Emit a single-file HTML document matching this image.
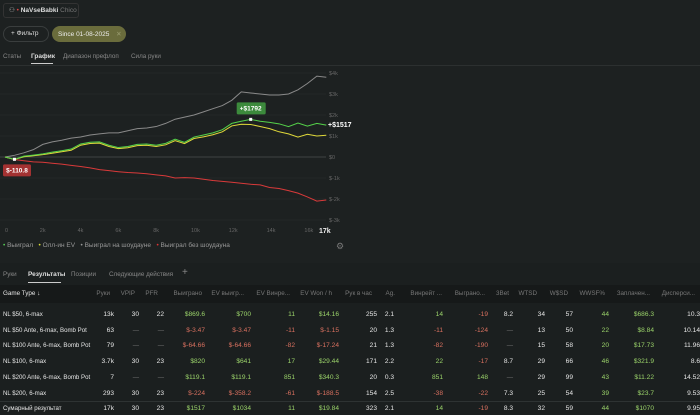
<!DOCTYPE html>
<html><head><meta charset="utf-8">
<style>
*{margin:0;padding:0;box-sizing:border-box}
body{width:700px;height:415px;background:#1d2121;font-family:"Liberation Sans","Noto Sans CJK SC",sans-serif;color:#ddd;position:relative;overflow:hidden;font-size:6.6px}
.a{position:absolute;white-space:nowrap}
.hd{color:#777;font-size:6.3px}
.g{color:#9bd36a}.r{color:#d8705f}.w{color:#e6e6e6}
</style></head><body>
<div class="a" style="left:3px;top:3px;width:76px;height:15px;border:1px solid #333;border-radius:3px;"></div>
<div class="a" style="left:9px;top:6px;font-size:6.5px"><span style="color:#aaa">⚇</span> <span style="color:#d44">•</span> <b>NaVseBabki</b> <span style="color:#777">Chico</span></div>
<div class="a" style="left:3px;top:26px;width:46px;height:16px;border:1px solid #3a3e3e;border-radius:8px;font-size:6.5px;padding:3px 0 0 7px">+ Фильтр</div>
<div class="a" style="left:52px;top:26px;width:74px;height:16px;background:#6a6c3c;border-radius:8px;font-size:6.5px;padding:4px 0 0 6px;color:#eee">Since 01-08-2025 <span style="color:#9a9c70;margin-left:5px">✕</span></div>
<div class="a hd" style="left:3px;top:53px;color:#888">Статы</div>
<div class="a" style="left:31px;top:53px;font-weight:bold;font-size:6.5px">График</div>
<div class="a" style="left:31px;top:63px;width:22px;height:1px;background:#ccc"></div>
<div class="a hd" style="left:63px;top:53px;color:#888">Диапазон префлоп</div>
<div class="a hd" style="left:131px;top:53px;color:#888">Сила руки</div>
<div class="a" style="left:0;top:65px;width:700px;height:1px;background:#2c3030"></div>

<svg class="a" style="left:0;top:0" width="700" height="240" id="chart"></svg>

<div class="a" style="left:3px;top:242px;font-size:6.5px;color:#999">
<span><span style="color:#5c5">•</span> Выиграл</span>&nbsp;&nbsp;
<span><span style="color:#dd3">•</span> Олл-ин EV</span>&nbsp;&nbsp;
<span><span style="color:#999">•</span> Выиграл на шоудауне</span>&nbsp;&nbsp;
<span><span style="color:#d33">•</span> Выиграл без шоудауна</span></div>
<div class="a" style="left:336px;top:241px;color:#777;font-size:9px">⚙</div>

<div class="a" style="left:0;top:263px;width:700px;height:152px;background:#1b1f1f"></div>
<div class="a hd" style="left:3px;top:271px;color:#888">Руки</div>
<div class="a" style="left:28px;top:271px;font-weight:bold;font-size:6.5px">Результаты</div>
<div class="a" style="left:28px;top:282px;width:33px;height:1px;background:#ccc"></div>
<div class="a hd" style="left:71px;top:271px;color:#888">Позиции</div>
<div class="a hd" style="left:109px;top:271px;color:#888">Следующие действия</div>
<div class="a" style="left:182px;top:267px;color:#888;font-size:10px">+</div>
<div class="a" style="left:0;top:285px;width:700px;height:18px;background:#161919"></div>
<div id="tbl"></div>

<script>
// chart data (thousands of hands -> $)
const hands=[0,0.5,1,1.5,2,2.5,3,3.5,4,4.5,5,5.5,6,6.5,7,7.5,8,8.5,9,9.5,10,10.5,11,11.5,12,12.5,13,13.5,14,14.5,15,15.5,16,16.5,17];
const won=[0,-110.8,40,90,150,230,300,380,620,700,720,560,450,500,600,620,560,650,850,700,950,1050,1150,1300,1600,1700,1792,1700,1650,1580,1450,1620,1470,1600,1517];
const allinEv=[0,-120,10,60,110,180,250,320,560,640,660,500,400,440,540,560,500,580,780,640,880,960,1060,1200,1480,1560,1550,1450,1350,1200,1100,950,1080,1000,1034];
const showdown=[0,80,200,350,600,720,800,900,950,1050,1100,1150,1150,1250,1350,1380,1450,1600,1800,1900,2000,2150,2300,2450,2700,3100,3050,3000,2950,2950,3000,3200,3500,3850,3800];
const nonShowdown=[0,-120,-180,-230,-250,-300,-340,-400,-450,-520,-600,-650,-700,-740,-760,-800,-850,-900,-1000,-980,-1000,-1060,-1120,-1160,-1200,-1250,-1300,-1330,-1450,-1500,-1600,-1720,-1900,-2100,-2050];
const yTicks=[4000,3000,2000,1000,0,-1000,-2000,-3000];
const yTickLabels=["$4k","$3k","$2k","$1k","$0","$-1k","$-2k","$-3k"];
const xTicks=[0,2,4,6,8,10,12,14,16];
const xTickLabels=["0","2k","4k","6k","8k","10k","12k","14k","16k"];
const xS=k=>5+k*18.9, yS=v=>157-v/1000*21;
const svg=document.getElementById('chart');const NS='http://www.w3.org/2000/svg';
function mk(t,at){const e=document.createElementNS(NS,t);for(const k in at)e.setAttribute(k,at[k]);svg.appendChild(e);return e;}
yTicks.forEach((v,i)=>{
 const l=mk('line',{x1:0,x2:326,y1:yS(v),y2:yS(v),stroke:v===0?'#3f4444':'#2b3030','stroke-width':v===0?1:0.6});
 
 
 const t=mk('text',{x:329,y:yS(v)+2,fill:'#666','font-size':5.5});t.textContent=yTickLabels[i];
 
 
});
xTicks.forEach((k,i)=>{const t=mk('text',{x:xS(k)-(i?3:0),y:232,fill:'#666','font-size':5.5});t.textContent=xTickLabels[i];
 
 });
const t17=mk('text',{x:319,y:233,fill:'#eee','font-size':7,'font-weight':'bold'});t17.textContent='17k';


function series(vals,col,name){const p=mk('polyline',{points:vals.map((v,i)=>xS(hands[i])+','+yS(v)).join(' '),fill:'none',stroke:col,'stroke-width':1});
 
 }
series(showdown,'#8a8a8a','line-showdown');
series(nonShowdown,'#d93a3a','line-non-showdown');
series(allinEv,'#e0d93a','line-allin-ev');
series(won,'#55d24a','line-won');
const maxI=won.indexOf(Math.max(...won)),minI=won.indexOf(Math.min(...won));
const bx=xS(hands[maxI]),by=yS(won[maxI]);
const b1=mk('rect',{x:bx-14,y:by-17,width:29,height:12,rx:1.5,fill:'#3c8a3c'});


const bt1=mk('text',{x:bx,y:by-9,fill:'#fff','font-size':6.5,'font-weight':'bold','text-anchor':'middle'});bt1.textContent='+$'+won[maxI];


mk('rect',{x:bx-1.5,y:by-1.5,width:3,height:3,fill:'#fff'});
const mx=xS(hands[minI]),my=yS(won[minI]);
mk('rect',{x:mx-1.5,y:my-1.5,width:3,height:3,fill:'#fff'});
const b2=mk('rect',{x:3,y:my+5,width:28,height:12,rx:1.5,fill:'#a33232'});


const bt2=mk('text',{x:17,y:my+13,fill:'#fff','font-size':6.5,'font-weight':'bold','text-anchor':'middle'});bt2.textContent='$'+won[minI];


const et=mk('text',{x:328,y:yS(won[won.length-1])+2,fill:'#fff','font-size':7,'font-weight':'bold'});et.textContent='+$'+won[won.length-1];



// table
const headers=[["Руки",108],["VPIP",133],["PFR",156],["Выиграно",200],["EV выигр...",242],["EV Винре...",288],["EV Won / h",330],["Рук в час",370],["Ag.",393],["Винрейт ...",440],["Выграно...",483],["3Bet",507],["WTSD",535],["W$SD",566],["WWSF%",603],["Заплачен...",648],["Дисперси...",693]];
const rightEdges=[114,139,164,205,251,295,339,377,394,443,488,513,545,573,609,654,700];
const colored=[3,4,5,6,9,10,14];
const rows=[
["NL $50, 6-max","13k","30","22","$869.6","$700","11","$14.16","255","2.1","14","-19","8.2","34","57","44","$686.3","10.3"],
["NL $50 Ante, 6-max, Bomb Pot","63","—","—","$-3.47","$-3.47","-11","$-1.15","20","1.3","-11","-124","—","13","50","22","$8.84","10.14"],
["NL $100 Ante, 6-max, Bomb Pot","79","—","—","$-64.66","$-64.66","-82","$-17.24","21","1.3","-82","-190","—","15","58","20","$17.73","11.96"],
["NL $100, 6-max","3.7k","30","23","$820","$641","17","$29.44","171","2.2","22","-17","8.7","29","66","46","$321.9","8.6"],
["NL $200 Ante, 6-max, Bomb Pot","7","—","—","$119.1","$119.1","851","$340.3","20","0.3","851","148","—","29","99","43","$11.22","14.52"],
["NL $200, 6-max","293","30","23","$-224","$-358.2","-61","$-188.5","154","2.5","-38","-22","7.3","25","54","39","$23.7","9.53"],
["Сумарный результат","17k","30","23","$1517","$1034","11","$19.84","323","2.1","14","-19","8.3","32","59","44","$1070","9.95"]];
const tbl=document.getElementById('tbl');
function cell(txt,x,y,cls,right,name,fs){const d=document.createElement('div');d.className='a '+cls;d.textContent=txt;d.style.top=y+'px';
 if(fs)d.style.fontSize=fs;
 if(right){d.style.right=(700-x)+'px';}else d.style.left=x+'px';
 
 
 tbl.appendChild(d);}
cell('Game Type ↓',3,290,'w',false,'header-game-type','6.3px');
headers.forEach((h,i)=>cell(h[0],h[1]+2,290,'hd',true,'column-header'));
rows.forEach((r,ri)=>{const y=311+ri*15.7;
 if(ri===6){const s=document.createElement('div');s.className='a';s.style.cssText='left:0;top:'+(y-4)+'px;width:700px;height:1px;background:#2e3333';
  
  
  tbl.appendChild(s);}
 cell(r[0],3,y,'w',false,ri===6?'total-label':'game-type-cell','6.1px');
 r.slice(1).forEach((v,ci)=>{let cls='w';
  if(colored.includes(ci)||ci===15){if(v.includes('-'))cls='r';else if(v!=='—')cls='g';}
  if(v==='—')cls='hd';
  cell(v,rightEdges[ci],y,cls,true,'table-cell');});
});
</script>
</body></html>
